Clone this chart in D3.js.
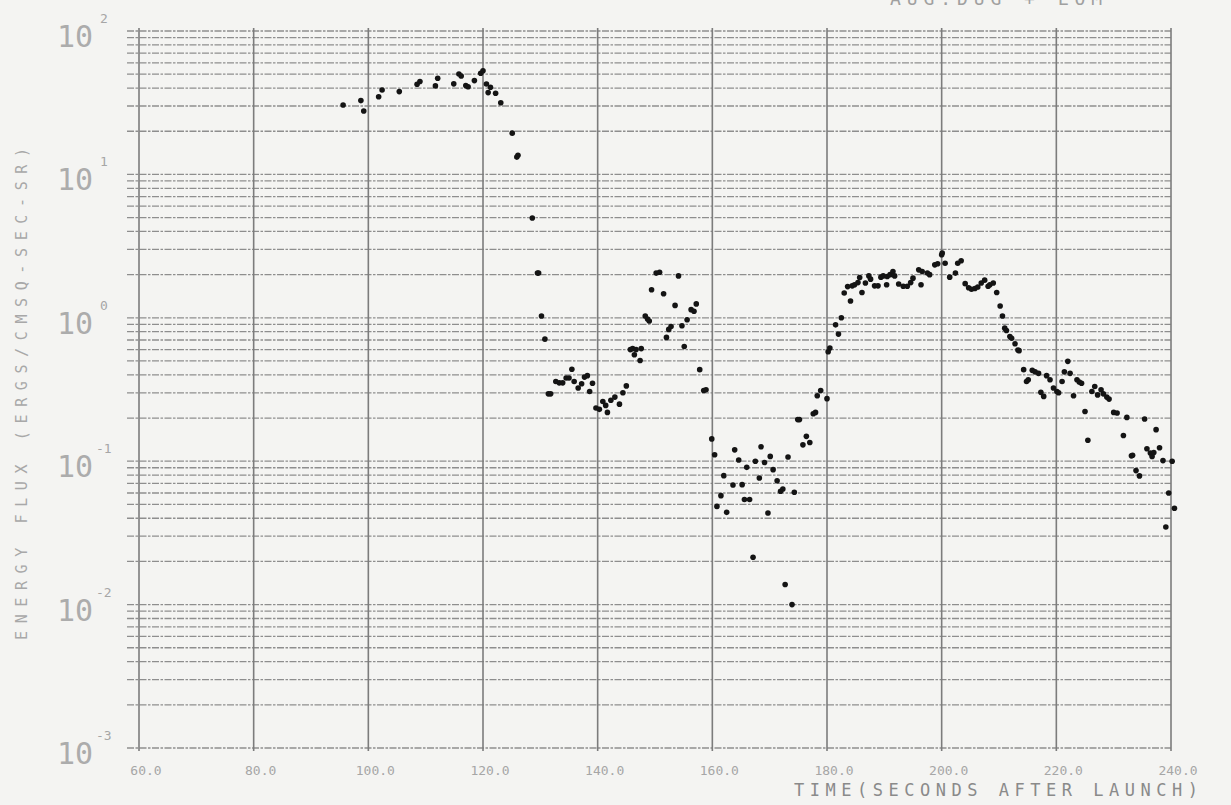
<!DOCTYPE html>
<html>
<head>
<meta charset="utf-8">
<script src="https://cdn.jsdelivr.net/npm/d3@7"></script>
<style>
  html, body { margin: 0; padding: 0; background: #f4f4f2; }
  svg { display: block; }
</style>
</head>
<body>
<svg id="chart" width="1231" height="805"></svg>
<script>
// ---- data ----
const timeSec = [
  95.6, 98.7, 99.2, 101.8, 102.4, 105.4, 108.5, 109.0, 111.7, 112.1,
  114.9, 115.8, 116.2, 117.0, 117.4, 118.5, 119.6, 120.0, 120.6, 120.9,
  121.3, 122.2, 123.1, 125.1, 125.9, 126.1, 128.6, 129.5, 129.7, 130.2,
  130.8, 131.4, 131.8, 132.7, 133.3, 133.9, 134.5, 135.0, 135.5, 135.9,
  136.6, 137.2, 137.7, 138.2, 138.6, 139.1, 139.7, 140.3, 140.9, 141.4,
  141.7, 142.3, 143.0, 143.8, 144.4, 145.0, 145.7, 146.1, 146.4, 146.7,
  147.4, 147.6, 148.3, 148.7, 149.0, 149.4, 150.2, 150.8, 151.5, 152.0,
  152.4, 152.8, 153.5, 154.1, 154.7, 155.1, 155.6, 156.3, 156.8, 157.2,
  157.8, 158.5, 158.9, 159.9, 160.4, 160.8, 161.5, 162.0, 162.5, 163.6,
  163.9, 164.6, 165.2, 165.6, 166.0, 166.5, 167.1, 167.5, 168.2, 168.5,
  169.1, 169.7, 170.1, 170.6, 171.3, 171.9, 172.3, 172.7, 173.2, 173.9,
  174.3, 174.9, 175.2, 175.8, 176.4, 177.0, 177.6, 178.0, 178.3, 178.9,
  180.0, 180.2, 180.5, 181.5, 182.0, 182.5, 183.0, 183.6, 184.1, 184.4,
  184.8, 185.4, 185.7, 186.1, 186.7, 187.3, 187.6, 188.3, 188.9, 189.4,
  189.8, 190.4, 190.5, 191.0, 191.5, 191.8, 192.5, 193.3, 194.0, 194.6,
  195.0, 196.0, 196.4, 196.6, 197.5, 197.9, 198.8, 199.3, 200.0, 200.1,
  200.6, 201.4, 202.4, 202.8, 203.4, 204.1, 204.7, 205.2, 205.8, 206.3,
  206.9, 207.5, 208.1, 208.4, 209.0, 209.6, 210.2, 210.6, 211.0, 211.3,
  211.9, 212.2, 212.8, 213.3, 213.5, 214.3, 214.8, 215.1, 215.8, 216.3,
  216.9, 217.3, 217.8, 218.3, 218.9, 219.5, 220.1, 220.4, 221.0, 221.4,
  222.0, 222.4, 223.0, 223.6, 224.0, 224.4, 225.0, 225.5, 226.2, 226.7,
  227.2, 227.8, 228.2, 228.8, 229.2, 230.0, 230.6, 231.7, 232.3, 233.1,
  233.3, 233.9, 234.5, 235.4, 235.8, 236.4, 236.7, 237.0, 237.4, 238.0,
  238.6, 239.1, 239.6, 240.2, 240.6
];
const energyFlux = [
  30.5, 32.7, 27.7, 34.8, 38.8, 37.8, 42.5, 44.5, 41.4, 46.8,
  42.8, 50.1, 48.5, 41.6, 40.9, 45.1, 50.7, 52.8, 42.7, 37.2,
  40.5, 36.8, 31.6, 19.4, 13.2, 13.6, 4.96, 2.05, 2.05, 1.03,
  0.71, 0.295, 0.295, 0.36, 0.352, 0.352, 0.38, 0.38, 0.438, 0.36,
  0.324, 0.347, 0.386, 0.395, 0.306, 0.35, 0.235, 0.23, 0.261, 0.245,
  0.219, 0.266, 0.28, 0.25, 0.30, 0.335, 0.60, 0.61, 0.552, 0.60,
  0.504, 0.61, 1.03, 0.98, 0.95, 1.57, 2.05, 2.08, 1.47, 0.73,
  0.83, 0.87, 1.22, 1.96, 0.88, 0.63, 0.97, 1.14, 1.11, 1.25,
  0.435, 0.311, 0.315, 0.143, 0.111, 0.0484, 0.0575, 0.0793, 0.044, 0.0683,
  0.12, 0.102, 0.0686, 0.054, 0.0906, 0.054, 0.0214, 0.1, 0.0764, 0.126,
  0.098, 0.0435, 0.108, 0.0873, 0.0731, 0.0617, 0.064, 0.0138, 0.107, 0.0100,
  0.0607, 0.195, 0.195, 0.13, 0.149, 0.135, 0.214, 0.219, 0.286, 0.311,
  0.273, 0.58, 0.615, 0.893, 0.77, 1.0, 1.49, 1.65, 1.31, 1.67,
  1.70, 1.76, 1.91, 1.50, 1.75, 1.96, 1.86, 1.67, 1.67, 1.92,
  1.96, 1.70, 1.94, 2.0, 2.1, 1.96, 1.72, 1.66, 1.66, 1.76,
  1.89, 2.16, 1.70, 2.1, 2.05, 2.0, 2.34, 2.38, 2.75, 2.83,
  2.40, 1.92, 2.05, 2.40, 2.5, 1.73, 1.62, 1.58, 1.60, 1.64,
  1.75, 1.83, 1.66, 1.70, 1.75, 1.50, 1.21, 1.03, 0.847, 0.816,
  0.741, 0.72, 0.659, 0.596, 0.59, 0.435, 0.36, 0.37, 0.43, 0.42,
  0.41, 0.302, 0.283, 0.395, 0.37, 0.324, 0.306, 0.30, 0.36, 0.42,
  0.497, 0.41, 0.286, 0.37, 0.357, 0.35, 0.222, 0.14, 0.306, 0.332,
  0.29, 0.315, 0.295, 0.28, 0.271, 0.219, 0.217, 0.151, 0.202, 0.109,
  0.11, 0.086, 0.079, 0.197, 0.122, 0.114, 0.108, 0.115, 0.166, 0.124,
  0.101, 0.0348, 0.06, 0.1, 0.047
];
const xTickValues = [60, 80, 100, 120, 140, 160, 180, 200, 220, 240];
const xTickLabels = ["60.0", "80.0", "100.0", "120.0", "140.0", "160.0", "180.0", "200.0", "220.0", "240.0"];
const yDecadeExponents = [2, 1, 0, -1, -2, -3];
const minorMultipliers = [1, 2, 3, 4, 5, 6, 7, 8, 9];
const xTitle = "TIME(SECONDS AFTER LAUNCH)";
const yTitle = "ENERGY FLUX (ERGS/CMSQ-SEC-SR)";
const topNote = "AUG.DUG + LOM";

// ---- scales ----
const x = d3.scaleLinear().domain([60, 240]).range([139, 1171]);
const y = d3.scaleLog().domain([1e-3, 1e2]).range([748, 31]);

const svg = d3.select("#chart");
const font = "'DejaVu Sans Mono', 'Liberation Mono', monospace";
const textCol = "#a6a6a6";

// horizontal log grid lines
const hVals = [];
for (let e = -3; e <= 1; e++) minorMultipliers.forEach(m => hVals.push(m * Math.pow(10, e)));
hVals.push(100);
svg.append("g").selectAll("line").data(hVals).join("line")
  .attr("x1", x(60) - 12).attr("x2", x(240))
  .attr("y1", d => y(d)).attr("y2", d => y(d))
  .attr("stroke", "#8e8e8e")
  .attr("stroke-width", 1.3)
  .attr("stroke-dasharray", "7,1.5,2.5,1.5");

// vertical grid lines
svg.append("g").selectAll("line").data(xTickValues).join("line")
  .attr("x1", d => x(d)).attr("x2", d => x(d))
  .attr("y1", y(100) - 3).attr("y2", y(1e-3) + 3)
  .attr("stroke", "#7c7c7c")
  .attr("stroke-width", 1.6);

// x tick labels
svg.append("g").selectAll("text").data(xTickValues).join("text")
  .attr("x", d => x(d) + 7).attr("y", 775)
  .attr("text-anchor", "middle")
  .attr("font-family", font).attr("font-size", 13)
  .attr("fill", textCol)
  .text((d, i) => xTickLabels[i]);

// y decade labels
const yl = svg.append("g").selectAll("g").data(yDecadeExponents).join("g");
yl.append("text")
  .attr("x", 57).attr("y", d => y(Math.pow(10, d)) + 16)
  .attr("font-family", font).attr("font-size", 30)
  .attr("fill", "#acacac")
  .text("10");
yl.append("text")
  .attr("x", d => d < 0 ? 96 : 100).attr("y", d => y(Math.pow(10, d)) - 8)
  .attr("font-family", font).attr("font-size", 13)
  .attr("fill", textCol)
  .text(d => String(d));

// axis titles
svg.append("text")
  .attr("x", 794).attr("y", 796)
  .attr("font-family", font).attr("font-size", 17)
  .attr("fill", "#8a8a8a")
  .attr("textLength", 404).attr("lengthAdjust", "spacing")
  .text(xTitle);

svg.append("text")
  .attr("transform", "translate(27,640) rotate(-90)")
  .attr("font-family", font).attr("font-size", 15)
  .attr("fill", "#a8a8a8")
  .attr("textLength", 492).attr("lengthAdjust", "spacing")
  .text(yTitle);

// note at top, cut off by the page edge as in the scan
svg.append("text")
  .attr("x", 890).attr("y", 5)
  .attr("font-family", font).attr("font-size", 18)
  .attr("fill", "#a0a0a0")
  .attr("textLength", 212).attr("lengthAdjust", "spacing")
  .text(topNote);

// data points
svg.append("g").selectAll("circle").data(timeSec).join("circle")
  .attr("cx", d => x(d))
  .attr("cy", (d, i) => y(energyFlux[i]))
  .attr("r", 2.8)
  .attr("fill", "#141414");
</script>
</body>
</html>
